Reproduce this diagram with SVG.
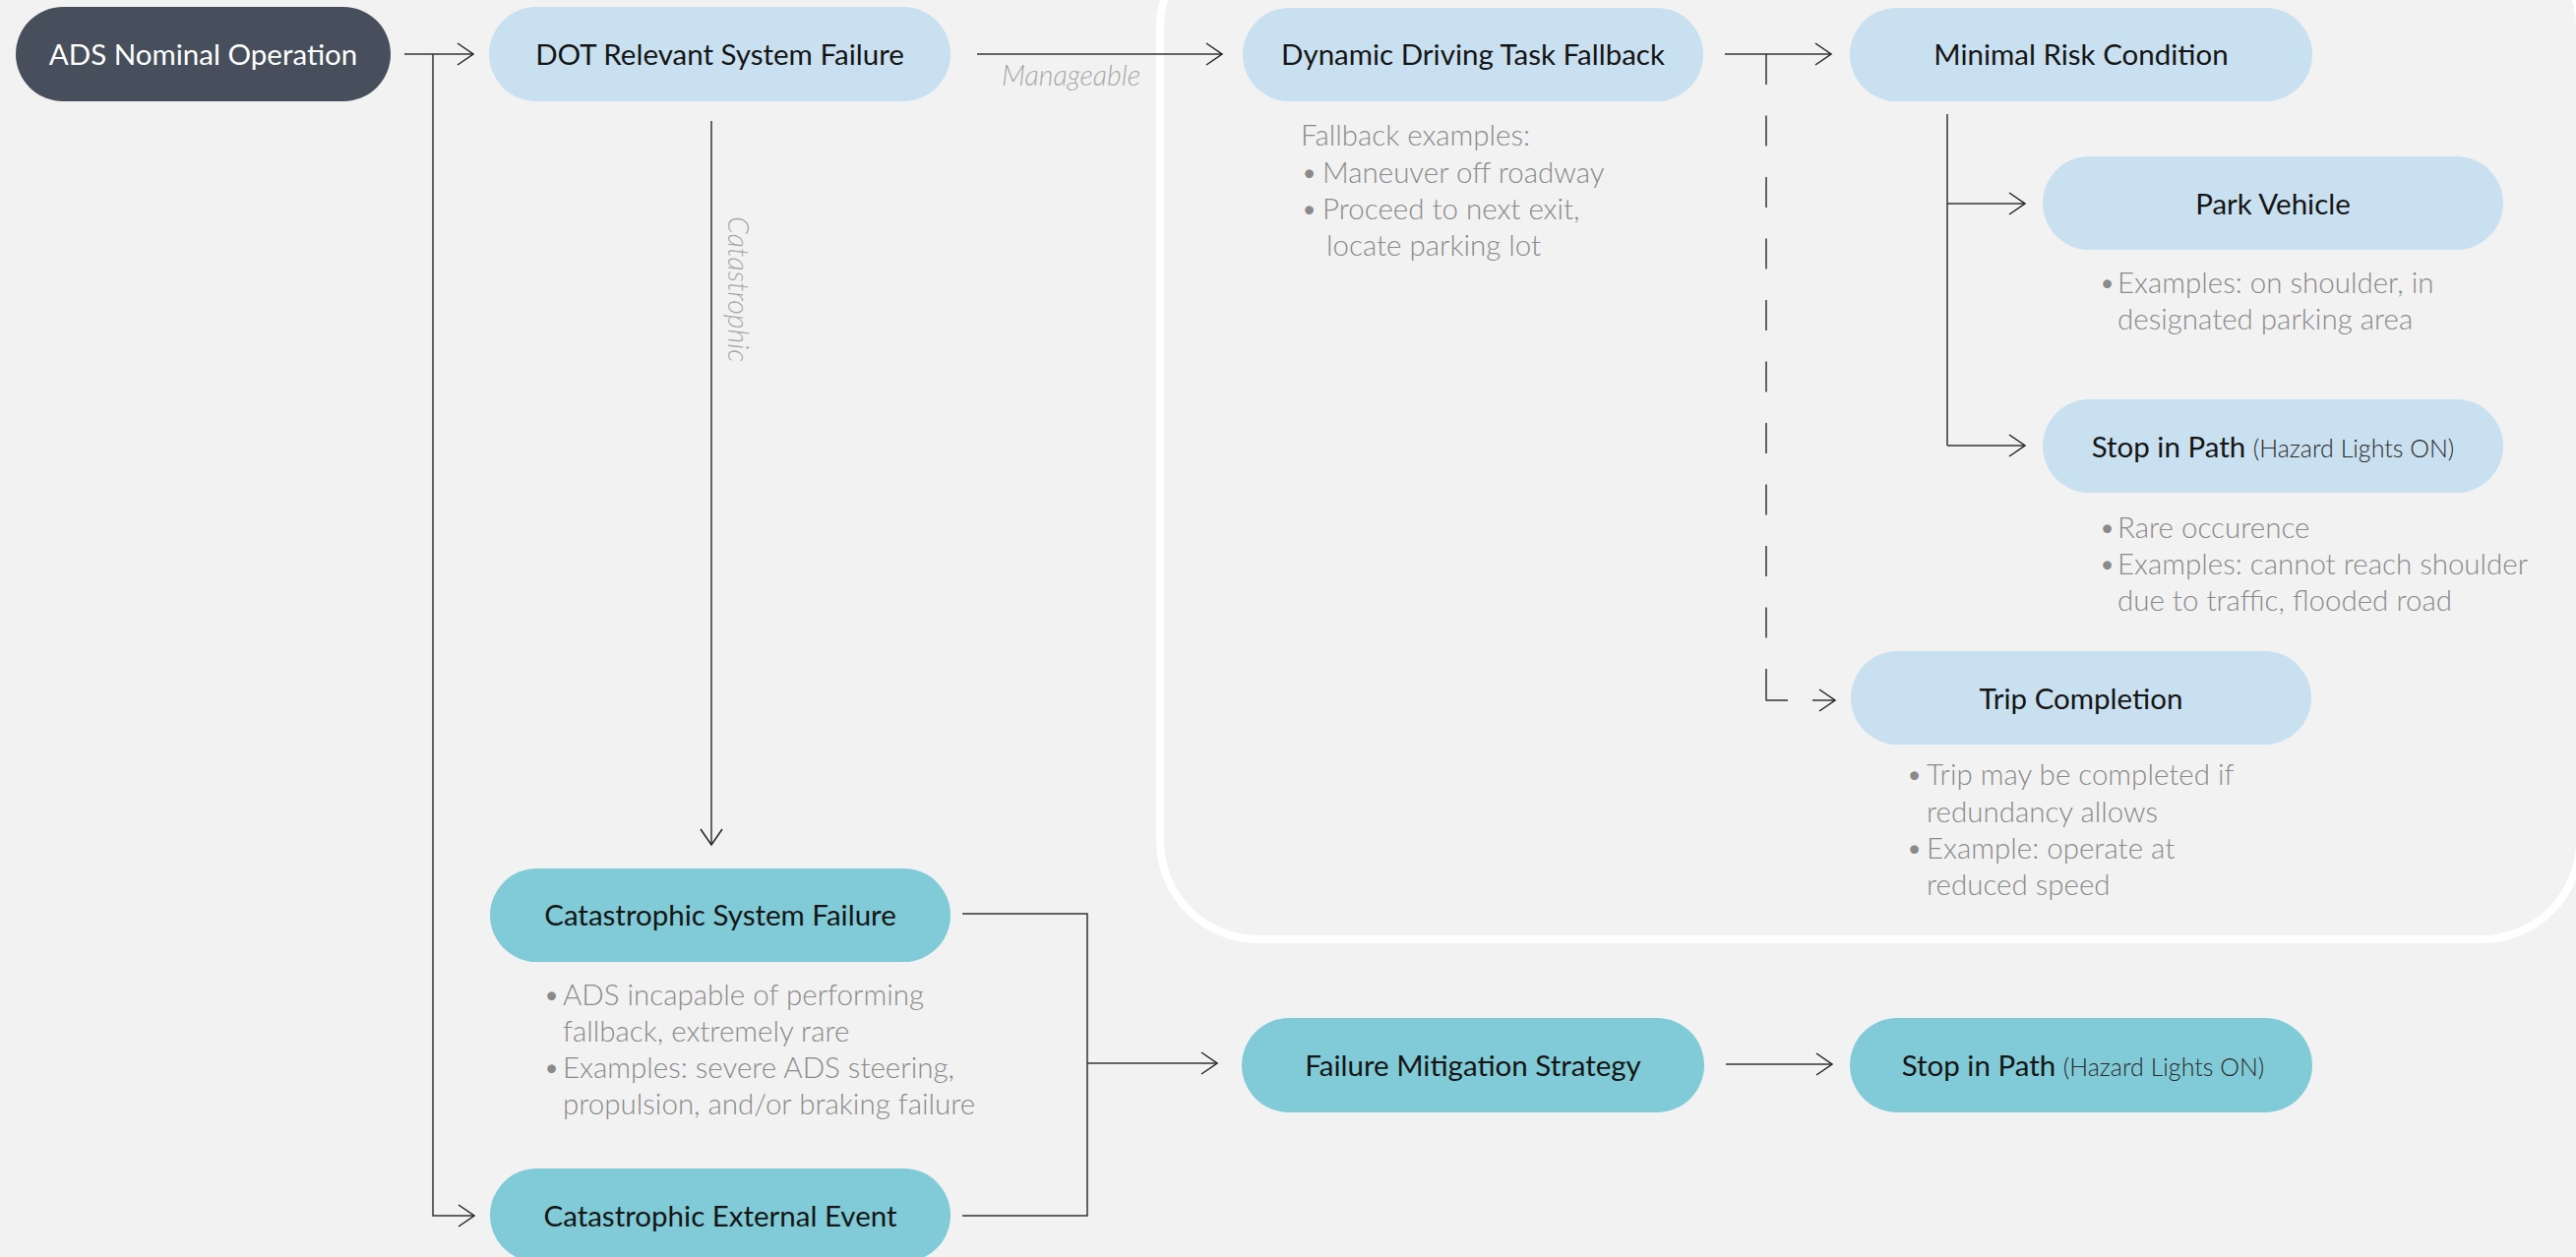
<svg xmlns="http://www.w3.org/2000/svg" width="2618" height="1278" viewBox="0 0 2618 1278">
<style>
.bg{fill:#f2f2f2}
.region{fill:none;stroke:#ffffff;stroke-width:8}
.pill-dark{fill:#464f5b}
.pill-blue{fill:#c9e0f0}
.pill-teal{fill:#80cbd7}
.lbl{font-family:Lato,"Liberation Sans",sans-serif;font-size:29.5px;font-weight:400;fill:#151515;text-anchor:middle}
.lbl-w{fill:#ffffff}
.sub{font-size:25px;font-weight:300;fill:#2a2a2a}
.note{font-family:Lato,"Liberation Sans",sans-serif;font-size:29.5px;font-weight:300;fill:#8a8a8a}
.elabel{font-family:Lato,"Liberation Sans",sans-serif;font-size:28.5px;font-weight:300;font-style:italic;fill:#a8a8a8}
.conn{fill:none;stroke:#333333;stroke-width:1.5}
.arr{marker-end:url(#ah)}
.dash{stroke-dasharray:31 31.5}
</style>
<defs>
<marker id="ah" markerUnits="userSpaceOnUse" markerWidth="22" markerHeight="26" refX="17" refY="12" orient="auto">
<path d="M1,1 L17,12 L1,23" fill="none" stroke="#222222" stroke-width="1.5"/>
</marker>
</defs>
<rect class="bg" x="0" y="0" width="2618" height="1278"/>
<rect class="region" x="1179" y="-72" width="1443" height="1027" rx="100" ry="100"/>

<g id="connectors">
<path class="conn arr" d="M411,55 H481"/>
<path class="conn arr" d="M440,55 V1236 H482"/>
<path class="conn arr" d="M993,55 H1242"/>
<path class="conn arr" d="M723,123 V859"/>
<path class="conn arr" d="M1753,55 H1861"/>
<path class="conn dash" d="M1795,55 V649"/>
<path class="conn" d="M1795,680 V712 H1817"/>
<path class="conn arr" d="M1842,712 H1865"/>
<path class="conn" d="M1979,116 V453"/>
<path class="conn arr" d="M1979,207 H2058"/>
<path class="conn arr" d="M1979,453 H2058"/>
<path class="conn" d="M978,929 H1105 V1236 H978"/>
<path class="conn arr" d="M1105,1081 H1237"/>
<path class="conn arr" d="M1754,1082 H1862"/>
<text class="elabel" x="1018" y="87">Manageable</text>
<text class="elabel" transform="translate(740,220) rotate(90)">Catastrophic</text>
</g>

<g id="ads-nominal">
<rect class="pill-dark" x="16" y="7" width="381" height="96" rx="48"/>
<text class="lbl lbl-w" x="206.5" y="66">ADS Nominal Operation</text>
</g>

<g id="dot-failure">
<rect class="pill-blue" x="497" y="7" width="469" height="96" rx="48"/>
<text class="lbl" x="731.5" y="66">DOT Relevant System Failure</text>
</g>

<g id="ddt-fallback">
<rect class="pill-blue" x="1263" y="8" width="468" height="95" rx="47.5"/>
<text class="lbl" x="1497" y="66">Dynamic Driving Task Fallback</text>
<text class="note" x="1322" y="148">Fallback examples:</text>
<text class="note" y="186"><tspan x="1322">•</tspan><tspan x="1344">Maneuver off roadway</tspan></text>
<text class="note" y="223"><tspan x="1322">•</tspan><tspan x="1344">Proceed to next exit,</tspan></text>
<text class="note" x="1348" y="260">locate parking lot</text>
</g>

<g id="minimal-risk">
<rect class="pill-blue" x="1880" y="8" width="470" height="95" rx="47.5"/>
<text class="lbl" x="2115" y="66">Minimal Risk Condition</text>
</g>

<g id="park-vehicle">
<rect class="pill-blue" x="2076" y="159" width="468" height="95" rx="47.5"/>
<text class="lbl" x="2310" y="218">Park Vehicle</text>
<text class="note" y="298"><tspan x="2133">•</tspan><tspan x="2152">Examples: on shoulder, in</tspan></text>
<text class="note" x="2152" y="335">designated parking area</text>
</g>

<g id="stop-in-path-1">
<rect class="pill-blue" x="2076" y="406" width="468" height="95" rx="47.5"/>
<text class="lbl" x="2310" y="465">Stop in Path <tspan class="sub">(Hazard Lights ON)</tspan></text>
<text class="note" y="547"><tspan x="2133">•</tspan><tspan x="2152">Rare occurence</tspan></text>
<text class="note" y="584"><tspan x="2133">•</tspan><tspan x="2152">Examples: cannot reach shoulder</tspan></text>
<text class="note" x="2152" y="621">due to traffic, flooded road</text>
</g>

<g id="trip-completion">
<rect class="pill-blue" x="1881" y="662" width="468" height="95" rx="47.5"/>
<text class="lbl" x="2115" y="721">Trip Completion</text>
<text class="note" y="798"><tspan x="1937">•</tspan><tspan x="1958">Trip may be completed if</tspan></text>
<text class="note" x="1958" y="836">redundancy allows</text>
<text class="note" y="873"><tspan x="1937">•</tspan><tspan x="1958">Example: operate at</tspan></text>
<text class="note" x="1958" y="910">reduced speed</text>
</g>

<g id="catastrophic-system-failure">
<rect class="pill-teal" x="498" y="883" width="468" height="95" rx="47.5"/>
<text class="lbl" x="732" y="941">Catastrophic System Failure</text>
<text class="note" y="1022"><tspan x="552">•</tspan><tspan x="572">ADS incapable of performing</tspan></text>
<text class="note" x="572" y="1059">fallback, extremely rare</text>
<text class="note" y="1096"><tspan x="552">•</tspan><tspan x="572">Examples: severe ADS steering,</tspan></text>
<text class="note" x="572" y="1133">propulsion, and/or braking failure</text>
</g>

<g id="catastrophic-external-event">
<rect class="pill-teal" x="498" y="1188" width="468" height="95" rx="47.5"/>
<text class="lbl" x="732" y="1247">Catastrophic External Event</text>
</g>

<g id="failure-mitigation">
<rect class="pill-teal" x="1262" y="1035" width="470" height="96" rx="48"/>
<text class="lbl" x="1497" y="1094">Failure Mitigation Strategy</text>
</g>

<g id="stop-in-path-2">
<rect class="pill-teal" x="1880" y="1035" width="470" height="96" rx="48"/>
<text class="lbl" x="2117" y="1094">Stop in Path <tspan class="sub">(Hazard Lights ON)</tspan></text>
</g>
</svg>
